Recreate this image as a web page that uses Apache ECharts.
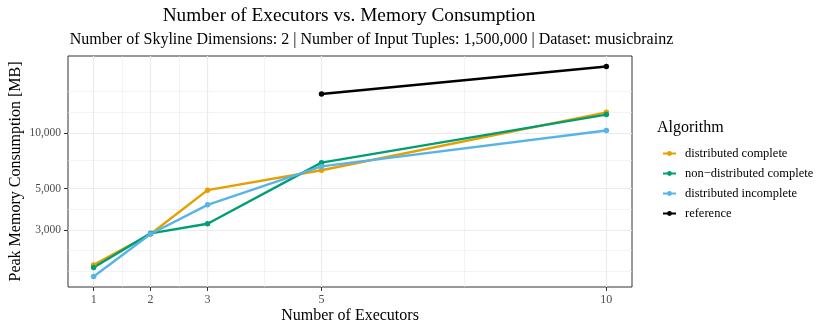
<!DOCTYPE html>
<html lang="en">
<head>
<meta charset="UTF-8">
<title>Executors vs Memory</title>
<script src="https://cdn.jsdelivr.net/npm/echarts@6/dist/echarts.min.js"></script>
<style>
  html, body { margin: 0; padding: 0; background: #fff; }
  #chart { width: 830px; height: 332px; }
</style>
</head>
<body>
<div id="chart"></div>
<script>
// executors on x, peak memory (MB) on y
var executors = [1, 2, 3, 5, 10];
var distComplete = [1943, 2850, 4909, 6285, 12890];
var nonDistComplete = [1879, 2873, 3236, 6905, 12535];
var distIncomplete = [1683, 2850, 4093, 6592, 10290];
var referenceX = [5, 10];
var referenceY = [16190, 22750];

var xTicks = [1, 2, 3, 5, 10];
var xMinor = [1.5, 2.5, 4, 7.5];
var yTicks = [3000, 5000, 10000];
var yMinor = [1800, 2320, 3873, 7071, 12910, 16680];

var serif = 'Liberation Serif';

function pairs(xs, ys) {
  return xs.map(function (x, i) { return [x, ys[i]]; });
}

function gridLines() {
  var d = [];
  xMinor.forEach(function (v) { d.push({ xAxis: v, lineStyle: { width: 0.6 } }); });
  yMinor.forEach(function (v) { d.push({ yAxis: v, lineStyle: { width: 0.6 } }); });
  xTicks.forEach(function (v) { d.push({ xAxis: v, lineStyle: { width: 1.2 } }); });
  yTicks.forEach(function (v) { d.push({ yAxis: v, lineStyle: { width: 1.2 } }); });
  return d;
}

function lineSeries(name, data, color) {
  return {
    name: name,
    type: 'line',
    data: data,
    color: color,
    z: 10,
    symbol: 'circle',
    symbolSize: 5.5,
    showSymbol: true,
    itemStyle: { color: color, borderColor: color, borderWidth: 0, opacity: 1 },
    lineStyle: { color: color, width: 2.4 },
    emphasis: { disabled: true }
  };
}

var chart = echarts.init(document.getElementById('chart'), null, { renderer: 'canvas' });

chart.setOption({
  animation: false,
  backgroundColor: '#ffffff',
  textStyle: { fontFamily: serif },
  grid: {
    left: 68, right: 198, top: 56, bottom: 45,
    outerBoundsMode: 'none', containLabel: false,
    show: true, borderColor: '#333333', borderWidth: 1, backgroundColor: 'transparent'
  },
  graphic: [
    {
      type: 'text', x: 349, y: 16,
      style: { text: 'Number of Executors vs. Memory Consumption', fontFamily: serif, fontSize: 19.3,
        fill: '#000', textAlign: 'center', textVerticalAlign: 'middle' }
    },
    {
      type: 'text', x: 371.5, y: 40,
      style: { text: 'Number of Skyline Dimensions: 2 | Number of Input Tuples: 1,500,000 | Dataset: musicbrainz',
        fontFamily: serif, fontSize: 16, fill: '#000', textAlign: 'center', textVerticalAlign: 'middle' }
    },
    {
      type: 'text', x: 657, y: 128,
      style: { text: 'Algorithm', fontFamily: serif, fontSize: 16, fill: '#000',
        textAlign: 'left', textVerticalAlign: 'middle' }
    }
  ],
  legend: {
    orient: 'vertical',
    left: 657, top: 142,
    itemWidth: 13, itemHeight: 6, itemGap: 7,
    textStyle: { fontFamily: serif, fontSize: 12.5, color: '#000', padding: [0, 0, 0, 4] },
    data: ['distributed complete', 'non\u2212distributed complete', 'distributed incomplete', 'reference']
  },
  xAxis: {
    type: 'value',
    min: 0.55, max: 10.45,
    name: 'Number of Executors',
    nameLocation: 'middle', nameGap: 21, nameMoveOverlap: false,
    nameTextStyle: { fontFamily: serif, fontSize: 16, color: '#000' },
    axisLine: { show: false },
    axisTick: { show: true, length: 4, customValues: xTicks, lineStyle: { color: '#333', width: 1 } },
    axisLabel: { customValues: xTicks, fontFamily: serif, fontSize: 12, color: '#4d4d4d', margin: 7 },
    splitLine: { show: false }
  },
  yAxis: {
    type: 'log',
    logBase: 10,
    min: 1477, max: 25920,
    name: 'Peak Memory Consumption [MB]',
    nameLocation: 'middle', nameGap: 44, nameRotate: 90, nameMoveOverlap: false,
    nameTextStyle: { fontFamily: serif, fontSize: 16, color: '#000' },
    axisLine: { show: false },
    axisTick: { show: true, length: 4, customValues: yTicks, lineStyle: { color: '#333', width: 1 } },
    axisLabel: {
      customValues: yTicks, fontFamily: serif, fontSize: 11.5, color: '#4d4d4d', margin: 7,
      formatter: function (v) { return Math.round(v).toLocaleString('en-US'); }
    },
    splitLine: { show: false }
  },
  series: [
    {
      name: 'grid',
      type: 'line',
      data: [],
      z: 1,
      silent: true,
      markLine: {
        z: 1,
        silent: true,
        symbol: 'none',
        label: { show: false },
        lineStyle: { color: '#ebebeb', type: 'solid' },
        emphasis: { disabled: true },
        data: gridLines()
      }
    },
    lineSeries('distributed complete', pairs(executors, distComplete), '#E69F00'),
    lineSeries('non\u2212distributed complete', pairs(executors, nonDistComplete), '#009E73'),
    lineSeries('distributed incomplete', pairs(executors, distIncomplete), '#56B4E9'),
    lineSeries('reference', pairs(referenceX, referenceY), '#000000')
  ]
});
</script>
</body>
</html>
